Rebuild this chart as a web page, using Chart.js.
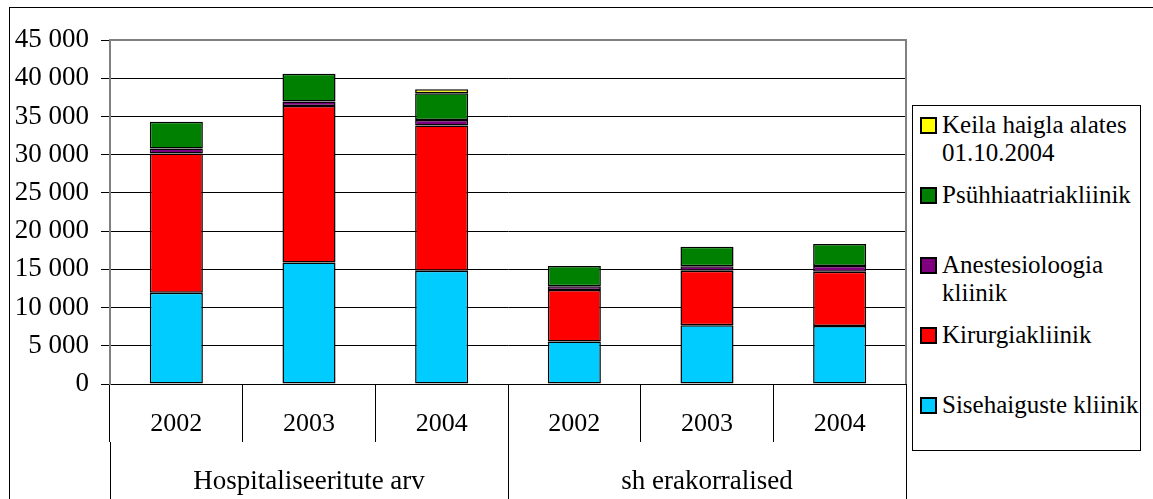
<!DOCTYPE html>
<html>
<head>
<meta charset="utf-8">
<script src="https://cdn.jsdelivr.net/npm/chart.js@4"></script>
<style>
  body { margin: 0; background: #fff; overflow: hidden; }
  #wrap { position: relative; width: 1153px; height: 499px; }
  #frame { position: absolute; left: 9px; top: 7px; width: 1200px; height: 600px; border: 1px solid #000; }
  #chartBox { position: absolute; left: 0; top: 0; width: 1153px; height: 499px; }
  #legend { position: absolute; left: 912px; top: 105px; width: 229px; height: 346px; border: 1px solid #000; background: #fff;
            font-family: "Liberation Serif", "DejaVu Serif", serif; font-size: 25px; color: #000; box-sizing: border-box; padding-top: 5px; }
  .item { height: 70px; position: relative; }
  .sw { position: absolute; left: 7px; top: 6px; width: 13px; height: 13px; border: 2px solid #000; }
  .txt { position: absolute; left: 29px; top: 0; width: 198px; line-height: 28px; }
</style>
</head>
<body>
<div id="wrap">
  <div id="frame"></div>
  <div id="chartBox"><canvas id="chart"></canvas></div>
  <div id="legend"></div>
</div>
<script>
// kategooriad
const years = ['2002', '2003', '2004', '2002', '2003', '2004'];
const groups = ['Hospitaliseeritute arv', 'sh erakorralised'];

// kliinikute andmed
const sisehaigused = [11950, 15900, 14800, 5550, 7700, 7600];
const kirurgia = [18200, 20450, 19000, 6750, 7100, 7100];
const anestesioloogia = [650, 600, 750, 500, 600, 750];
const psyhhiaatria = [3500, 3650, 3500, 2650, 2550, 2850];
const keila = [null, null, 520, null, null, null];

const FONT = '"Liberation Serif", "DejaVu Serif", serif';

function fmt(v) {
    return String(v).replace(/\B(?=(\d{3})+(?!\d))/g, ' ');
}

// halli raami joonistamine graafiku ala ümber
const plotFrame = {
    id: 'plotFrame',
    afterDraw(chart) {
        const { ctx, chartArea: a } = chart;
        ctx.save();
        ctx.strokeStyle = '#808080';
        ctx.lineWidth = 2;
        ctx.beginPath();
        ctx.moveTo(a.left, a.top);
        ctx.lineTo(a.right, a.top);
        ctx.lineTo(a.right, a.bottom);
        ctx.stroke();
        ctx.restore();
    }
};

const datasets = [
    { label: 'Sisehaiguste kliinik', data: sisehaigused, backgroundColor: '#00CCFF' },
    { label: 'Kirurgiakliinik', data: kirurgia, backgroundColor: '#FF0000' },
    { label: 'Anestesioloogia kliinik', data: anestesioloogia, backgroundColor: '#800080' },
    { label: 'Psühhiaatriakliinik', data: psyhhiaatria, backgroundColor: '#008000' },
    { label: 'Keila haigla alates 01.10.2004', data: keila, backgroundColor: '#FFFF00' }
].map(d => ({
    ...d,
    borderColor: '#000',
    borderWidth: 1.5,
    borderSkipped: false,
    inflateAmount: 0,
    barPercentage: 0.4,
    categoryPercentage: 1
}));

const chart = new Chart(document.getElementById('chart'), {
    type: 'bar',
    data: { labels: years, datasets: datasets },
    options: {
        responsive: true,
        maintainAspectRatio: false,
        animation: false,
        layout: { padding: { left: 0, right: 247, top: 40, bottom: 0 } },
        plugins: { legend: { display: false }, tooltip: { enabled: false } },
        scales: {
            x: {
                stacked: true,
                offset: true,
                weight: 0,
                grid: { offset: true, drawOnChartArea: false, tickLength: 58, color: '#000', lineWidth: 1 },
                border: { color: '#000', width: 1 },
                ticks: { font: { family: FONT, size: 26 }, color: '#000', padding: -33, maxRotation: 0, autoSkip: false },
                afterFit: s => { s.height = 58; }
            },
            group: {
                type: 'category',
                labels: groups,
                position: 'bottom',
                offset: true,
                weight: 1,
                grid: { offset: true, drawOnChartArea: false, tickLength: 60, color: '#000', lineWidth: 1 },
                border: { display: false },
                ticks: { font: { family: FONT, size: 27 }, color: '#000', padding: -36, maxRotation: 0, autoSkip: false },
                afterFit: s => { s.height = 57; }
            },
            y: {
                stacked: true,
                min: 0,
                max: 45000,
                grid: { color: '#000', lineWidth: 1, tickLength: 9 },
                border: { color: '#808080', width: 2 },
                ticks: {
                    stepSize: 5000,
                    font: { family: FONT, size: 27 },
                    color: '#000',
                    padding: 12,
                    callback: v => fmt(v)
                },
                afterFit: s => { s.width = 110; }
            }
        }
    },
    plugins: [plotFrame]
});

// legend paremal, vastupidises järjekorras
const legend = document.getElementById('legend');
datasets.slice().reverse().forEach(d => {
    legend.innerHTML += `<div class="item"><span class="sw" style="background:${d.backgroundColor}"></span><span class="txt">${d.label}</span></div>`;
});
</script>
</body>
</html>
